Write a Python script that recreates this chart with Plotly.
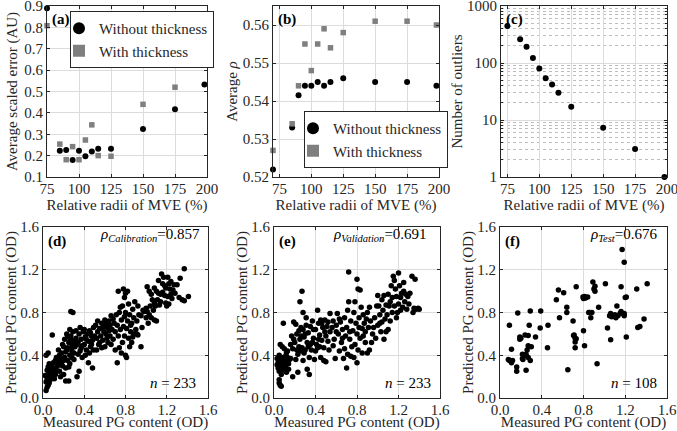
import plotly.graph_objects as go

W, H = 677, 431
FONT = "Liberation Serif"
TXT = "#262626"
GRID = "#dcdcdc"
GRAY = "#7f7f7f"

# ---------------- data: top row ----------------
radii = [75, 85, 90, 95, 100, 105, 110, 115, 125, 150, 175, 198]
radii_b = [70, 85, 90, 95, 100, 105, 110, 115, 125, 150, 175, 198]
err_without = [0.89, 0.223, 0.226, 0.18, 0.223, 0.197, 0.219, 0.232, 0.232, 0.325, 0.417, 0.533]
err_with = [0.808, 0.254, 0.181, 0.242, 0.181, 0.273, 0.344, 0.2, 0.197, 0.44, 0.52, 0.625]
rho_without = [0.522, 0.533, 0.5415, 0.544, 0.544, 0.545, 0.544, 0.545, 0.546, 0.545, 0.545, 0.544]
rho_with = [0.527, 0.534, 0.544, 0.555, 0.548, 0.555, 0.559, 0.554, 0.558, 0.561, 0.561, 0.560]
n_outliers = [447, 261, 192, 122, 80, 54, 42, 30, 17, 7.3, 3.1, 1]

radii_ticks = [75, 100, 125, 150, 175, 200]
pg_ticks = [0.0, 0.4, 0.8, 1.2, 1.6]

# ---------------- data: bottom row (measured, predicted) ----------------
calibration = [
    (0.03,0.07),(0.04,0.10),(0.05,0.12),(0.03,0.15),(0.06,0.14),(0.04,0.18),(0.07,0.17),(0.05,0.21),(0.08,0.20),(0.06,0.24),
    (0.09,0.23),(0.04,0.26),(0.07,0.27),(0.10,0.25),(0.05,0.29),(0.08,0.30),(0.11,0.28),(0.12,0.22),(0.13,0.26),(0.10,0.33),
    (0.03,0.40),(0.05,0.42),(0.09,0.59),(0.12,0.35),(0.14,0.30),(0.06,0.32),(0.11,0.18),(0.13,0.38),(0.15,0.33),(0.02,0.21),
    (0.16,0.25),(0.17,0.36),(0.18,0.42),(0.19,0.30),(0.20,0.48),(0.21,0.38),(0.22,0.16),(0.23,0.45),(0.24,0.35),(0.25,0.16),
    (0.25,0.52),(0.26,0.40),(0.27,0.81),(0.29,0.80),(0.27,0.58),(0.28,0.44),(0.29,0.50),(0.30,0.36),(0.16,0.40),(0.18,0.31),
    (0.20,0.35),(0.21,0.55),(0.22,0.28),(0.23,0.60),(0.24,0.47),(0.26,0.32),(0.27,0.55),(0.28,0.38),(0.29,0.62),(0.30,0.53),
    (0.15,0.45),(0.19,0.50),(0.22,0.43),(0.25,0.29),(0.28,0.48),(0.30,0.42),(0.17,0.20),(0.24,0.57),(0.26,0.64),(0.20,0.22),
    (0.31,0.48),(0.32,0.56),(0.33,0.20),(0.34,0.52),(0.35,0.25),(0.35,0.60),(0.36,0.44),(0.37,0.55),(0.38,0.49),(0.39,0.62),
    (0.40,0.50),(0.41,0.57),(0.42,0.45),(0.43,0.60),(0.44,0.33),(0.44,0.53),(0.45,0.63),(0.46,0.48),(0.47,0.58),(0.48,0.28),
    (0.48,0.54),(0.49,0.66),(0.50,0.58),(0.32,0.63),(0.34,0.41),(0.36,0.66),(0.38,0.38),(0.40,0.64),(0.42,0.55),(0.45,0.42),
    (0.47,0.50),(0.49,0.45),(0.33,0.50),(0.37,0.47),(0.41,0.40),(0.46,0.61),
    (0.51,0.68),(0.52,0.56),(0.53,0.62),(0.54,0.50),(0.55,0.65),(0.56,0.58),(0.57,0.70),(0.58,0.54),(0.59,0.62),(0.60,0.73),
    (0.61,0.60),(0.62,0.66),(0.63,0.52),(0.64,0.72),(0.65,0.58),(0.66,0.77),(0.67,0.64),(0.68,0.55),(0.69,0.70),(0.70,0.45),
    (0.70,0.62),(0.72,0.33),(0.52,0.45),(0.55,0.52),(0.58,0.66),(0.60,0.48),(0.62,0.56),(0.64,0.63),(0.66,0.50),(0.68,0.74),
    (0.53,0.72),(0.57,0.47),(0.61,0.69),(0.65,0.68),
    (0.71,0.78),(0.72,0.68),(0.73,1.00),(0.73,0.58),(0.74,0.80),(0.75,0.64),(0.76,0.73),(0.77,0.86),(0.77,0.52),(0.78,1.02),
    (0.78,0.67),(0.79,0.94),(0.79,0.58),(0.80,0.98),(0.80,0.40),(0.81,0.38),(0.80,0.80),(0.81,0.65),(0.82,0.72),(0.83,0.56),
    (0.84,0.78),(0.84,0.48),(0.85,0.62),(0.86,0.70),(0.87,0.83),(0.87,0.57),(0.88,0.75),(0.88,0.60),(0.89,0.90),(0.90,0.64),
    (0.74,0.47),(0.76,0.42),(0.82,1.00),(0.83,0.88),(0.86,0.52),(0.75,0.85),(0.79,0.76),(0.85,0.68),
    (0.91,0.72),(0.91,0.60),(0.92,0.86),(0.92,0.59),(0.93,0.78),(0.95,0.48),(0.95,0.77),(0.96,0.66),(0.97,0.82),(0.98,0.81),
    (1.00,0.84),(1.00,0.75),(1.01,1.04),(1.01,0.81),(1.02,0.70),(1.03,1.00),(1.03,0.78),(1.04,0.86),(1.05,0.97),(1.05,0.75),
    (1.06,0.92),(1.07,0.82),(1.08,1.03),(1.08,0.89),(1.08,0.73),(1.10,1.00),(1.10,0.72),(1.09,0.86),
    (1.11,0.92),(1.12,0.98),(1.13,0.87),(1.14,0.97),(1.14,0.90),(1.15,1.16),(1.16,1.07),(1.17,1.13),(1.18,1.05),(1.18,0.96),
    (1.19,1.03),(1.19,0.89),(1.21,1.13),(1.21,0.95),(1.22,1.07),(1.22,0.88),(1.24,1.09),(1.24,0.97),(1.25,0.93),(1.27,1.06),
    (1.28,0.98),(1.30,1.06),(1.32,0.94),(1.33,1.12),(1.35,0.92),(1.37,1.21),(1.37,0.91),(1.41,0.95),(1.12,1.10),(1.20,0.86),
    (1.26,1.01),(1.16,0.99),(1.23,1.02),
]

validation = [
    (0.03,0.37),(0.04,0.33),(0.05,0.17),(0.05,0.14),(0.06,0.12),(0.07,0.11),(0.04,0.28),(0.05,0.25),(0.06,0.30),(0.07,0.35),
    (0.08,0.27),(0.08,0.38),(0.09,0.32),(0.10,0.26),(0.10,0.36),(0.11,0.29),(0.12,0.34),(0.13,0.38),(0.14,0.27),(0.06,0.50),
    (0.08,0.48),(0.10,0.46),(0.09,0.70),(0.12,0.42),(0.14,0.32),(0.05,0.40),(0.07,0.22),(0.11,0.39),(0.13,0.44),(0.15,0.36),
    (0.03,0.31),(0.12,0.24),
    (0.16,0.50),(0.17,0.58),(0.18,0.46),(0.18,0.20),(0.19,0.71),(0.20,0.52),(0.21,0.69),(0.21,0.36),(0.22,0.45),(0.22,0.60),
    (0.23,0.24),(0.24,0.48),(0.24,0.63),(0.25,0.90),(0.25,0.55),(0.26,0.66),(0.26,0.44),(0.27,0.47),(0.27,1.00),(0.28,0.80),
    (0.28,0.64),(0.28,0.35),(0.29,0.57),(0.30,0.45),(0.30,0.60),(0.31,0.68),(0.32,0.27),(0.32,0.52),(0.33,0.61),(0.34,0.38),
    (0.34,0.22),(0.35,0.67),(0.35,0.50),(0.16,0.37),(0.19,0.55),(0.23,0.41),(0.26,0.58),(0.29,0.42),(0.31,0.75),(0.33,0.48),
    (0.36,0.45),(0.37,0.72),(0.38,0.56),(0.39,0.36),(0.40,0.64),(0.41,0.50),(0.42,0.82),(0.42,0.47),(0.43,0.70),(0.44,0.59),
    (0.45,0.38),(0.45,0.73),(0.46,0.54),(0.47,0.66),(0.48,0.35),(0.48,0.47),(0.49,0.73),(0.50,0.58),(0.50,0.34),(0.51,0.67),
    (0.52,0.53),(0.53,0.45),(0.54,0.79),(0.54,0.62),(0.38,0.64),(0.40,0.44),(0.43,0.55),(0.46,0.70),(0.49,0.62),(0.52,0.71),
    (0.37,0.52),(0.44,0.48),
    (0.56,0.66),(0.57,0.72),(0.58,0.55),(0.59,0.37),(0.60,0.68),(0.61,0.79),(0.62,0.60),(0.63,0.44),(0.64,0.71),(0.65,0.52),
    (0.66,0.64),(0.67,0.37),(0.68,0.75),(0.69,0.58),(0.70,0.28),(0.70,0.66),(0.71,0.41),(0.71,0.82),(0.72,1.18),(0.72,0.90),
    (0.73,0.55),(0.74,0.72),(0.74,0.39),(0.75,0.48),(0.57,0.49),(0.60,0.62),(0.63,0.74),(0.66,0.56),(0.68,0.46),(0.73,0.62),
    (0.76,0.63),(0.77,0.80),(0.77,0.38),(0.78,0.50),(0.79,0.70),(0.80,1.11),(0.80,0.60),(0.80,0.33),(0.81,1.02),(0.81,0.45),
    (0.82,0.75),(0.83,1.01),(0.83,0.56),(0.84,0.85),(0.85,0.65),(0.85,0.42),(0.86,0.78),(0.87,0.70),(0.88,0.52),(0.88,0.62),
    (0.89,0.74),(0.90,0.80),(0.90,0.42),(0.91,0.66),(0.92,0.45),(0.93,0.72),(0.94,0.52),(0.95,0.60),(0.78,0.90),(0.86,0.58),
    (0.82,0.66),(0.92,0.85),
    (0.96,0.66),(0.97,0.75),(0.98,0.56),(1.00,0.68),(1.00,0.96),(1.01,0.86),(1.02,0.78),(1.03,0.62),(1.04,0.92),(1.04,0.71),
    (1.05,0.82),(1.06,0.96),(1.07,0.74),(1.08,0.87),(1.08,0.62),(1.09,0.78),(1.10,0.97),(1.10,0.64),(1.11,0.86),(1.12,0.90),
    (1.12,0.72),(1.13,1.05),(1.14,0.80),(1.14,0.94),(1.15,1.14),(1.06,0.55),(0.99,0.86),(1.02,0.70),
    (1.16,1.10),(1.16,0.86),(1.17,1.02),(1.18,0.95),(1.19,0.80),(1.20,1.17),(1.20,0.88),(1.21,1.05),(1.22,0.94),(1.23,0.98),
    (1.24,0.85),(1.25,1.00),(1.26,0.90),(1.27,0.97),(1.28,0.83),(1.29,0.95),(1.30,0.88),(1.31,0.98),(1.33,1.14),(1.34,0.80),
    (1.35,0.84),(1.36,1.11),(1.37,0.83),(1.39,0.84),(1.40,0.83),(1.18,0.75),(1.22,0.82),(1.25,1.08),
]

test = [
    (1.17,1.39),(1.19,1.27),(0.89,1.085),(0.91,1.045),(0.91,1.00),(1.01,1.07),(1.16,1.04),(1.31,1.02),(0.56,1.01),(0.61,0.985),
    (0.73,1.04),(0.795,0.945),(0.82,0.935),(0.84,0.945),(1.21,0.945),(0.54,0.92),(0.945,0.85),(0.64,0.85),(0.64,0.80),(0.57,0.75),
    (0.86,0.80),(0.87,0.75),(1.12,0.86),(1.10,0.78),(1.11,0.75),(1.13,0.77),(1.15,0.79),(1.16,0.81),(1.19,0.79),(1.19,0.77),
    (1.03,0.655),(1.32,0.66),(1.06,0.545),(1.21,0.57),(0.70,0.72),(0.705,0.585),(0.73,0.555),(0.72,0.525),(0.72,0.47),(0.80,0.63),
    (0.81,0.49),(0.65,0.265),(0.93,0.32),(0.17,0.795),(0.29,0.815),(0.39,0.815),(0.09,0.68),(0.28,0.68),(0.46,0.68),(0.385,0.655),
    (0.24,0.59),(0.27,0.585),(0.19,0.57),(0.19,0.55),(0.34,0.57),(0.30,0.48),(0.26,0.45),(0.27,0.49),(0.455,0.47),(0.11,0.455),
    (0.215,0.41),(0.25,0.41),(0.27,0.38),(0.215,0.37),(0.29,0.35),(0.22,0.36),(0.08,0.36),(0.10,0.35),(0.11,0.33),(0.12,0.35),
    (0.16,0.29),(0.16,0.25),(0.25,0.26),(1.38,0.74),(1.34,0.67),(1.41,1.07),(1.20,0.94),(0.81,0.95),(0.80,0.93),(1.05,0.77),
    (1.07,0.76),(1.06,0.79),(0.72,0.56),(0.71,0.59),(0.24,0.40),(0.09,0.35),(0.20,0.56),(0.88,0.80),(0.90,1.02),(0.85,0.80),
]

# ---------------- layout helpers ----------------
def xdom(a, b):
    return [a / W, b / W]

def ydom(top, bottom):
    return [1 - bottom / H, 1 - top / H]

def axis_style(title_text, standoff, **kw):
    d = dict(showline=True, linecolor=TXT, linewidth=1, mirror="ticks",
             ticks="inside", ticklen=3, tickcolor=TXT, showgrid=True,
             gridcolor=GRID, gridwidth=1, zeroline=False, ticklabeloverflow="allow",
             tickfont=dict(family=FONT, size=15, color=TXT),
             title=dict(text=title_text, standoff=standoff,
                        font=dict(family=FONT, size=15, color=TXT)))
    d.update(kw)
    return d

fig = go.Figure()

def add(x, y, ax, symbol, color, name=None, legend=None, size=6):
    fig.add_trace(go.Scatter(
        x=x, y=y, mode="markers", xaxis="x" + ax, yaxis="y" + ax,
        marker=dict(symbol=symbol, color=color, size=size, line=dict(width=0)),
        name=name, showlegend=name is not None, legend=legend, cliponaxis=False))

# (a)
add(radii, err_without, "", "circle", "black", "Without thickness", "legend")
add(radii, err_with, "", "square", GRAY, "With thickness", "legend", 5.5)
# (b)
add(radii_b, rho_without, "2", "circle", "black", "Without thickness", "legend2")
add(radii_b, rho_with, "2", "square", GRAY, "With thickness", "legend2", 5.5)
# (c)
add(radii, n_outliers, "3", "circle", "black")
# (d)-(f)
for pts, ax in [(calibration, "4"), (validation, "5"), (test, "6")]:
    add([p[0] for p in pts], [p[1] for p in pts], ax, "circle", "black", size=5.5)

top_y = ydom(6, 177)
bot_y = ydom(227, 398)
RAD = "Relative radii of MVE (%)"
MEAS = "Measured PG content (OD)"
PRED = "Predicted PG content (OD)"
xlab = dict(ticklabelstandoff=-2)

legend_common = dict(bordercolor=TXT, borderwidth=1, bgcolor="white",
                     font=dict(family=FONT, size=15, color=TXT), itemwidth=30,
                     indentation=-12, tracegroupgap=0, itemsizing="constant")

fig.update_layout(
    width=W, height=H, margin=dict(l=0, r=0, t=0, b=0, autoexpand=False),
    paper_bgcolor="white", plot_bgcolor="white",
    font=dict(family=FONT, size=15, color=TXT),
    xaxis=axis_style(RAD, 0, domain=xdom(47, 207), range=[75, 200], tickvals=radii_ticks, anchor="y", **xlab),
    yaxis=axis_style("Average scaled error (AU)", 3, domain=top_y, range=[0.1, 0.9], dtick=0.1,
                     tickformat=".1f", anchor="x"),
    xaxis2=axis_style(RAD, 0, domain=xdom(273, 439), range=[70, 200], tickvals=radii_ticks, anchor="y2", **xlab),
    yaxis2=axis_style("Average <i>ρ</i>", 1, domain=top_y, range=[0.52, 0.565],
                      tickvals=[0.52, 0.53, 0.54, 0.55, 0.56], tickformat=".2f", anchor="x2"),
    xaxis3=axis_style(RAD, 0, domain=xdom(501, 667), range=[70, 200], tickvals=radii_ticks, anchor="y3", **xlab),
    yaxis3=axis_style("Number of outliers", 0, domain=top_y, type="log", range=[0, 3],
                      tickvals=[1, 10, 100, 1000], ticktext=["1", "10", "100", "1000"], anchor="x3",
                      minor=dict(dtick="D1", showgrid=True, griddash="dot", gridcolor="#bdbdbd",
                                 ticks="inside", ticklen=2, tickcolor=TXT)),
    xaxis4=axis_style(MEAS, 0, domain=xdom(43, 208), range=[0, 1.6], tickvals=pg_ticks, tickformat=".1f", anchor="y4", **xlab),
    yaxis4=axis_style(PRED, 0, domain=bot_y, range=[0, 1.6], tickvals=pg_ticks, tickformat=".1f", anchor="x4"),
    xaxis5=axis_style(MEAS, 0, domain=xdom(274, 440), range=[0, 1.6], tickvals=pg_ticks, tickformat=".1f", anchor="y5", **xlab),
    yaxis5=axis_style(PRED, 0, domain=bot_y, range=[0, 1.6], tickvals=pg_ticks, tickformat=".1f", anchor="x5"),
    xaxis6=axis_style(MEAS, 0, domain=xdom(500, 667), range=[0, 1.6], tickvals=pg_ticks, tickformat=".1f", anchor="y6", **xlab),
    yaxis6=axis_style(PRED, 0, domain=bot_y, range=[0, 1.6], tickvals=pg_ticks, tickformat=".1f", anchor="x6"),
    legend=dict(x=70 / W, y=1 - 11 / H, xanchor="left", yanchor="top", **legend_common),
    legend2=dict(x=304 / W, y=1 - 168 / H, xanchor="left", yanchor="bottom", **legend_common),
)

def note(ax, x, y, text, xanchor="left", yanchor="top"):
    suffix = "" if ax == "1" else ax
    fig.add_annotation(xref="x" + suffix + " domain", yref="y" + suffix + " domain", x=x, y=y,
                       text=text, showarrow=False, xanchor=xanchor, yanchor=yanchor,
                       font=dict(family=FONT, size=15, color="black"))

note("1", 0.02, 0.985, "<b>(a)</b>")
note("2", 0.02, 0.985, "<b>(b)</b>")
note("3", 0.02, 0.985, "<b>(c)</b>")
note("4", 0.02, 0.975, "<b>(d)</b>")
note("5", 0.02, 0.975, "<b>(e)</b>")
note("6", 0.02, 0.975, "<b>(f)</b>")
note("4", 0.965, 1.02, "<i>ρ</i><sub><i>Calibration</i></sub>=0.857", xanchor="right")
note("5", 0.935, 1.02, "<i>ρ</i><sub><i>Validation</i></sub>=0.691", xanchor="right")
note("6", 0.95, 1.02, "<i>ρ</i><sub><i>Test</i></sub>=0.676", xanchor="right")
note("4", 0.94, 0.03, "<i>n</i> = 233", xanchor="right", yanchor="bottom")
note("5", 0.955, 0.03, "<i>n</i> = 233", xanchor="right", yanchor="bottom")
note("6", 0.95, 0.03, "<i>n</i> = 108", xanchor="right", yanchor="bottom")

fig.write_html("out.html", config={"displayModeBar": False},
               post_script="document.body.style.margin='0';")
